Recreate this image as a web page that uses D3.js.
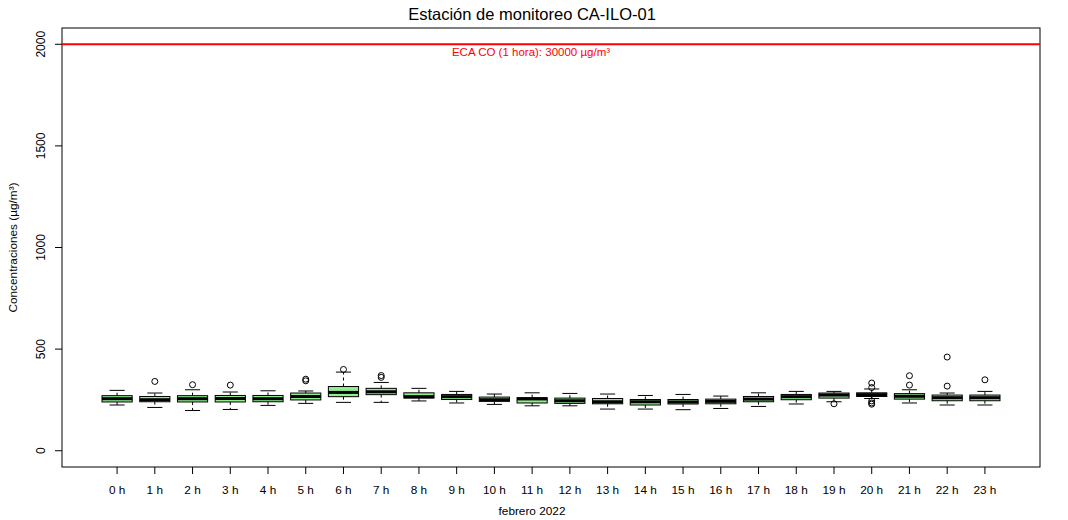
<!DOCTYPE html>
<html>
<head>
<meta charset="utf-8">
<script src="https://cdn.jsdelivr.net/npm/d3@7"></script>
<style>
  body { margin: 0; background: #fff; }
  svg text { font-family: "Liberation Sans", Arial, sans-serif; }
</style>
</head>
<body>
<svg id="chart" width="1068" height="520"></svg>
<script>
// Hourly CO concentration summaries (µg/m³), February 2022
const hours = ["0 h","1 h","2 h","3 h","4 h","5 h","6 h","7 h","8 h","9 h","10 h","11 h",
               "12 h","13 h","14 h","15 h","16 h","17 h","18 h","19 h","20 h","21 h","22 h","23 h"];
const whiskerLow  = [225, 213, 198, 203, 223, 233, 238, 238, 245, 235, 228, 221, 221, 205, 205, 202, 208, 218, 230, 241, 257, 235, 225, 225];
const q1          = [240, 241, 240, 240, 241, 250, 266, 276, 259, 252, 243, 235, 233, 231, 225, 230, 231, 241, 251, 259, 267, 254, 246, 246];
const medians     = [256, 251, 256, 257, 256, 267, 287, 290, 266, 266, 251, 255, 246, 241, 241, 240, 243, 254, 266, 274, 276, 268, 261, 261];
const q3          = [271, 267, 271, 272, 272, 284, 316, 307, 285, 277, 264, 261, 259, 257, 252, 252, 254, 267, 277, 284, 285, 281, 274, 274];
const whiskerHigh = [297, 284, 300, 289, 295, 294, 387, 336, 307, 292, 279, 285, 282, 279, 272, 277, 269, 285, 292, 292, 304, 300, 284, 292];
const outliers    = [[], [341], [325], [323], [], [352, 344], [400], [370, 361], [], [], [], [],
                     [], [], [], [], [], [], [], [231], [333, 311, 245, 235, 229], [369, 323], [461, 318], [349]];
const yTicks = [0, 500, 1000, 1500, 2000];
const ecaLimit = 2000;

const svg = d3.select("#chart");
const plot = { left: 62, right: 1040, top: 28, bottom: 467 };

// y range 0–2000 with 4% padding on both ends
const y = d3.scaleLinear().domain([0 - 80, 2000 + 80]).range([plot.bottom, plot.top]);

// categories placed at 1..24 inside a padded 0.5..24.5 interval
const n = hours.length;
const xPad = n * 0.04;
const x = d3.scaleLinear().domain([0.5 - xPad, n + 0.5 + xPad]).range([plot.left, plot.right]);
const unit = x(2) - x(1);
const boxW = unit * 0.8;
const capW = boxW * 0.5;

// plot frame
svg.append("rect").attr("x", plot.left).attr("y", plot.top)
  .attr("width", plot.right - plot.left).attr("height", plot.bottom - plot.top)
  .attr("fill", "none").attr("stroke", "#000").attr("stroke-width", 1);

// y axis
yTicks.forEach(t => {
  svg.append("line").attr("x1", plot.left - 7).attr("x2", plot.left)
    .attr("y1", y(t)).attr("y2", y(t)).attr("stroke", "#000");
  svg.append("text")
    .attr("transform", `translate(${plot.left - 17},${y(t)}) rotate(-90)`)
    .attr("text-anchor", "middle").attr("font-size", 12).text(t);
});
svg.append("text")
  .attr("transform", `translate(17,${(plot.top + plot.bottom) / 2}) rotate(-90)`)
  .attr("text-anchor", "middle").attr("font-size", 11.8).text("Concentraciones (µg/m³)");

// x axis ticks and labels
hours.forEach((h, i) => {
  const cx = x(i + 1);
  svg.append("line").attr("x1", cx).attr("x2", cx)
    .attr("y1", plot.bottom).attr("y2", plot.bottom + 7).attr("stroke", "#000");
  svg.append("text").attr("x", cx).attr("y", plot.bottom + 27)
    .attr("text-anchor", "middle").attr("font-size", 11.8).text(h);
});
svg.append("text").attr("x", 532).attr("y", 515)
  .attr("text-anchor", "middle").attr("font-size", 11.8).text("febrero 2022");

// title
svg.append("text").attr("x", 532).attr("y", 20)
  .attr("text-anchor", "middle").attr("font-size", 16.5).text("Estación de monitoreo CA-ILO-01");

// ECA reference line
svg.append("line").attr("x1", plot.left).attr("x2", plot.right)
  .attr("y1", y(ecaLimit)).attr("y2", y(ecaLimit))
  .attr("stroke", "#ff0000").attr("stroke-width", 2);
svg.append("text").attr("x", 531).attr("y", y(ecaLimit) + 11.5)
  .attr("text-anchor", "middle").attr("font-size", 11.5).attr("fill", "#ff0000")
  .text("ECA CO (1 hora): 30000 µg/m³");

// boxplots
const g = svg.append("g");
hours.forEach((h, i) => {
  const cx = x(i + 1);
  // dashed whiskers
  g.append("line").attr("x1", cx).attr("x2", cx)
    .attr("y1", y(q3[i])).attr("y2", y(whiskerHigh[i]))
    .attr("stroke", "#000").attr("stroke-dasharray", "3,3");
  g.append("line").attr("x1", cx).attr("x2", cx)
    .attr("y1", y(q1[i])).attr("y2", y(whiskerLow[i]))
    .attr("stroke", "#000").attr("stroke-dasharray", "3,3");
  // staples
  [whiskerHigh[i], whiskerLow[i]].forEach(v => {
    g.append("line").attr("x1", cx - capW / 2).attr("x2", cx + capW / 2)
      .attr("y1", y(v)).attr("y2", y(v)).attr("stroke", "#000");
  });
  // box
  g.append("rect").attr("x", cx - boxW / 2).attr("y", y(q3[i]))
    .attr("width", boxW).attr("height", y(q1[i]) - y(q3[i]))
    .attr("fill", "#90ee90").attr("stroke", "#000").attr("stroke-width", 1);
  // median
  g.append("line").attr("x1", cx - boxW / 2).attr("x2", cx + boxW / 2)
    .attr("y1", y(medians[i])).attr("y2", y(medians[i]))
    .attr("stroke", "#000").attr("stroke-width", 3);
  // outliers
  outliers[i].forEach(v => {
    g.append("circle").attr("cx", cx).attr("cy", y(v)).attr("r", 3)
      .attr("fill", "none").attr("stroke", "#000").attr("stroke-width", 1);
  });
});
</script>
</body>
</html>
